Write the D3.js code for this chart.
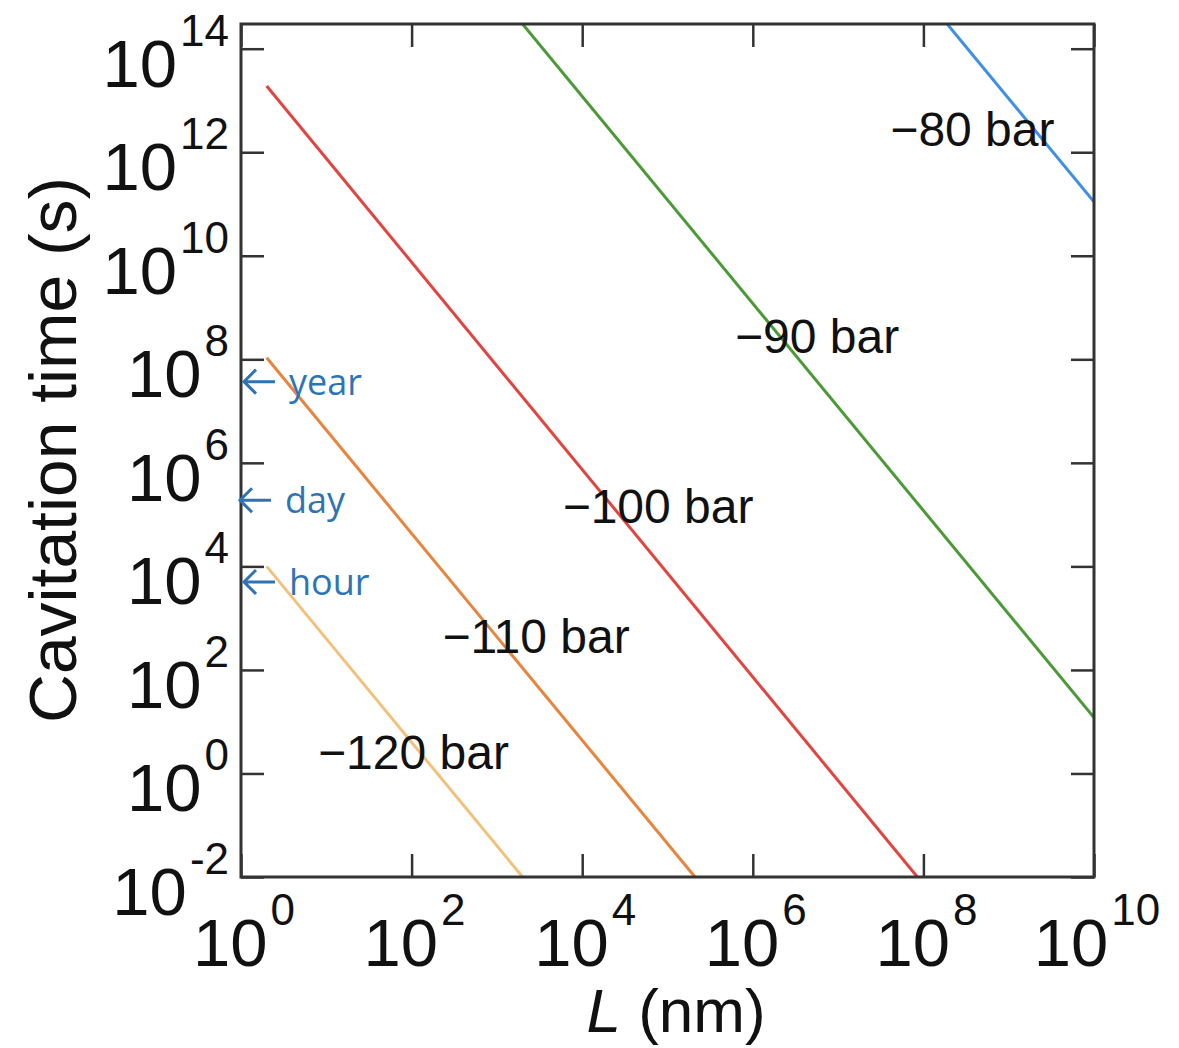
<!DOCTYPE html>
<html>
<head>
<meta charset="utf-8">
<script src="https://cdn.jsdelivr.net/npm/d3@7"></script>
<style>
  body { margin: 0; background: #fff; }
  text { font-family: "Liberation Sans", Arial, sans-serif; fill: #111; }
  .note { font-family: "Open Sans", sans-serif; fill: #2e74b5; }
</style>
</head>
<body>
<div id="chart"></div>
<script>
// cavitation time vs pore length L, one straight line (log-log) per pressure

//series names + colours
var pressures = ["\u221280 bar", "\u221290 bar", "\u2212100 bar", "\u2212110 bar", "\u2212120 bar"];
var colors = ["#3f8fe8", "#4b9a37", "#e2443f", "#e8843c", "#f2c17c"];

//end points of each line, [L (nm), t (s)]
var line80 = [[1.9e8, 3.0e14], [1e10, 1.1e11]];
var line90 = [[2.0e3, 3.0e14], [1e10, 1.2e1]];
var line100 = [[2, 1.9e13], [8.5e7, 1e-2]];
var line110 = [[2, 1.07e8], [2.1e5, 1e-2]];
var line120 = [[2, 1.0e4], [2.0e3, 1e-2]];
var series = [line80, line90, line100, line110, line120];

//where each pressure label starts (data coords)
var labelAt = [[4.1e7, 1.3e12], [6.2e5, 1.3e8], [5.9e3, 6.9e4], [2.3e2, 2.1e2], [8, 1.2]];

//tick exponents
var xExp = [0, 2, 4, 6, 8, 10];
var yExp = [-2, 0, 2, 4, 6, 8, 10, 12, 14];

//time markers pointing at the y axis
var notes = ["year", "day", "hour"];
var noteT = [3.7e7, 1.9e5, 5.0e3];

var width = 1179,
	height = 1048;

var svg = d3.select("#chart")
	.append("svg")
	.attr("width", width)
	.attr("height", height);

var x = d3.scaleLog().domain([1, 1e10]).range([241, 1094]);
var y = d3.scaleLog().domain([1e-2, 3e14]).range([877, 24]);

// (window.top is taken, so pX/pY names)
var pLeft = x.range()[0], pRight = x.range()[1],
	pTop = y.range()[1], pBottom = y.range()[0];

svg.append("clipPath").attr("id", "plot")
	.append("rect")
	.attr("x", pLeft).attr("y", pTop)
	.attr("width", pRight - pLeft).attr("height", pBottom - pTop);

//lines
var line = d3.line()
	.x(function(d) { return x(d[0]); })
	.y(function(d) { return y(d[1]); });

svg.append("g").attr("clip-path", "url(#plot)")
	.selectAll("path")
	.data(series)
	.enter()
	.append("path")
	.attr("d", line)
	.attr("fill", "none")
	.attr("stroke", function(d, i) { return colors[i]; })
	.attr("stroke-width", 3);

//inward ticks on all four sides
var xVals = xExp.map(function(e) { return Math.pow(10, e); });
var yVals = yExp.map(function(e) { return Math.pow(10, e); });
var tick = 23;

function styleAxis(g) {
	g.select(".domain").remove();
	g.selectAll(".tick line").attr("stroke", "#333").attr("stroke-width", 2.5);
	g.selectAll(".tick text").remove();
}

svg.append("g").attr("transform", "translate(0," + pBottom + ")")
	.call(d3.axisBottom(x).tickValues(xVals).tickSize(-tick).tickSizeOuter(0)).call(styleAxis);
svg.append("g").attr("transform", "translate(0," + pTop + ")")
	.call(d3.axisTop(x).tickValues(xVals).tickSize(-tick).tickSizeOuter(0)).call(styleAxis);
svg.append("g").attr("transform", "translate(" + pLeft + ",0)")
	.call(d3.axisLeft(y).tickValues(yVals).tickSize(-tick).tickSizeOuter(0)).call(styleAxis);
svg.append("g").attr("transform", "translate(" + pRight + ",0)")
	.call(d3.axisRight(y).tickValues(yVals).tickSize(-tick).tickSizeOuter(0)).call(styleAxis);

//frame
svg.append("rect")
	.attr("x", pLeft).attr("y", pTop)
	.attr("width", pRight - pLeft).attr("height", pBottom - pTop)
	.attr("fill", "none")
	.attr("stroke", "#333")
	.attr("stroke-width", 3);

//tick labels as 10 with a superscript
function power(sel) {
	sel.append("tspan").attr("font-size", 67).text("10");
	sel.append("tspan").attr("font-size", 44).attr("dy", -41).attr("dx", 3)
		.text(function(d) { return d; });
}

svg.append("g").selectAll("text")
	.data(xExp)
	.enter()
	.append("text")
	.attr("x", function(d) { return x(Math.pow(10, d)) + 3; })
	.attr("y", 966)
	.attr("text-anchor", "middle")
	.call(power);

svg.append("g").selectAll("text")
	.data(yExp)
	.enter()
	.append("text")
	.attr("x", pLeft - 12)
	.attr("y", function(d) { return y(Math.pow(10, d)) + 38; })
	.attr("text-anchor", "end")
	.call(power);

//pressure labels
svg.append("g").selectAll("text")
	.data(pressures)
	.enter()
	.append("text")
	.attr("x", function(d, i) { return x(labelAt[i][0]); })
	.attr("y", function(d, i) { return y(labelAt[i][1]); })
	.attr("font-size", 48)
	.text(function(d) { return d; });

//axis titles
var xt = svg.append("text")
	.attr("x", 676)
	.attr("y", 1032)
	.attr("text-anchor", "middle")
	.attr("font-size", 62);
xt.append("tspan").attr("font-style", "italic").text("L");
xt.append("tspan").text(" (nm)");

svg.append("text")
	.attr("transform", "translate(76,450) rotate(-90)")
	.attr("text-anchor", "middle")
	.attr("font-size", 66)
	.attr("textLength", 546)
	.attr("lengthAdjust", "spacingAndGlyphs")
	.text("Cavitation time (s)");

//year / day / hour arrows
var nx = [242, 238, 242];
var ng = svg.append("g").selectAll("g")
	.data(notes)
	.enter()
	.append("g")
	.attr("transform", function(d, i) { return "translate(" + nx[i] + "," + y(noteT[i]) + ")"; });

ng.append("path")
	.attr("d", "M33,0H2M14,-12L2,0L14,12")
	.attr("fill", "none")
	.attr("stroke", "#2e74b5")
	.attr("stroke-width", 3);

ng.append("text")
	.attr("class", "note")
	.attr("x", 47)
	.attr("y", 13)
	.attr("font-size", 36)
	.text(function(d) { return d; });
</script>
</body>
</html>
